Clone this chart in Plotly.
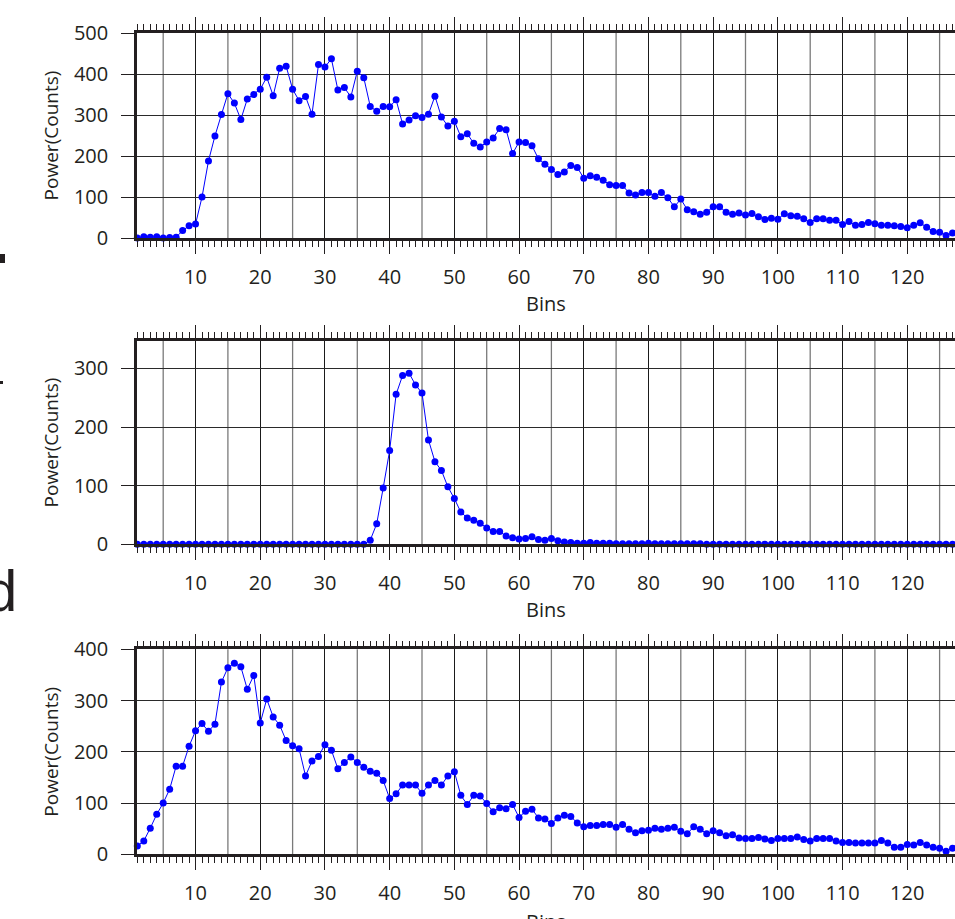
import plotly.graph_objects as go

bins = list(range(1, 128))

power_a = [0, 3, 2, 3, 0, 1, 2, 18, 30, 34,
           100, 188, 249, 301, 352, 329, 289, 339, 350, 363,
           392, 347, 414, 419, 363, 335, 345, 302, 423, 417,
           437, 361, 367, 344, 407, 391, 321, 309, 321, 320,
           337, 278, 288, 298, 294, 302, 346, 295, 273, 285,
           247, 254, 231, 222, 234, 244, 267, 264, 206, 234,
           233, 225, 193, 180, 167, 155, 161, 177, 172, 146,
           152, 148, 141, 130, 128, 128, 110, 105, 111, 111,
           102, 111, 98, 76, 95, 69, 64, 58, 63, 76,
           76, 63, 58, 61, 56, 60, 52, 45, 48, 46,
           59, 54, 53, 47, 38, 47, 47, 43, 43, 33,
           40, 31, 33, 38, 35, 31, 31, 30, 28, 25,
           31, 37, 26, 16, 14, 6, 12]

power_b = [0, 0, 0, 0, 0, 0, 0, 0, 0, 0,
           0, 0, 0, 0, 0, 0, 0, 0, 0, 0,
           0, 0, 0, 0, 0, 0, 0, 0, 0, 0,
           0, 0, 0, 0, 0, 0, 7, 35, 96, 160,
           256, 288, 292, 272, 258, 178, 141, 126, 98, 78,
           55, 45, 41, 36, 28, 22, 22, 14, 11, 9,
           10, 13, 8, 7, 10, 6, 4, 3, 2, 2,
           3, 2, 2, 2, 1, 1, 1, 1, 1, 2,
           1, 1, 1, 1, 1, 1, 1, 1, 0, 0,
           0, 0, 0, 0, 0, 0, 0, 0, 0, 0,
           0, 0, 0, 0, 0, 0, 0, 0, 0, 0,
           0, 0, 0, 0, 0, 0, 0, 0, 0, 0,
           0, 0, 0, 0, 0, 0, 0]

power_c = [16, 26, 51, 78, 100, 127, 172, 172, 211, 241,
           255, 240, 254, 336, 364, 373, 366, 322, 349, 256,
           303, 268, 252, 222, 212, 206, 153, 182, 191, 214,
           203, 167, 179, 190, 179, 170, 162, 158, 144, 109,
           118, 135, 135, 135, 119, 135, 144, 135, 153, 161,
           115, 97, 115, 114, 99, 83, 91, 89, 97, 72,
           84, 88, 71, 69, 60, 71, 76, 74, 61, 54,
           56, 56, 58, 58, 53, 58, 49, 42, 46, 47,
           51, 49, 51, 53, 45, 40, 54, 49, 40, 46,
           42, 36, 38, 32, 31, 31, 33, 30, 27, 31,
           31, 31, 34, 29, 26, 31, 31, 31, 26, 23,
           23, 22, 22, 22, 22, 27, 22, 14, 14, 19,
           18, 23, 18, 14, 12, 6, 12]

series = [power_a, power_b, power_c]
y_ranges = [[0, 500], [0, 347.4], [0, 400]]
panel_px = [(33, 238), (340.7, 544.3), (649.3, 854.3)]  # top, bottom in px
x_tick_vals = list(range(10, 121, 10))
x_half_grid = list(range(5, 128, 10))
x_title = "Bins"
y_title = "Power(Counts)"

W, H = 955, 919
L = 137
PW = W - L
INK = "#231f20"
FONT = "Open Sans"

fig = go.Figure()

for i, ys in enumerate(series):
    n = "" if i == 0 else str(i + 1)
    last = i == len(series) - 1
    fig.add_trace(go.Scatter(
        x=bins, y=ys, mode="lines+markers",
        line=dict(color="#0000ff", width=1),
        marker=dict(color="#0000ff", size=7),
        cliponaxis=False, showlegend=False,
        xaxis="x" + n, yaxis="y" + n))
    top, bot = panel_px[i]
    fig.layout["xaxis" + n] = dict(
        domain=[0, 1], anchor="y" + n, range=[0.95, 127.38], automargin=False,
        tickvals=x_tick_vals, ticks="outside", ticklen=13, tickwidth=1.3,
        tickcolor=INK, showline=True, linewidth=2.5, linecolor=INK,
        mirror="allticks", showgrid=True, gridcolor="#1a1a1a", gridwidth=1,
        zeroline=False,
        minor=dict(dtick=1, tick0=0, ticks="outside", ticklen=6,
                   tickwidth=1, tickcolor=INK, showgrid=False),
        tickfont=dict(family=FONT, size=20, color=INK),
        ticklabelstandoff=6,
        title=dict(text="" if last else x_title,
                   font=dict(family=FONT, size=20, color=INK), standoff=6))
    fig.layout["yaxis" + n] = dict(
        domain=[1 - bot / H, 1 - top / H], anchor="x" + n, automargin=False,
        range=y_ranges[i], dtick=100, tick0=0,
        ticks="outside", ticklen=13, tickwidth=1.3, tickcolor=INK,
        showline=True, linewidth=2.5, linecolor=INK, mirror=False,
        showgrid=True, gridcolor="#2a2a2a", gridwidth=1, zeroline=False,
        tickfont=dict(family=FONT, size=20, color=INK),
        ticklabelstandoff=9,
        title=dict(text=y_title, font=dict(family=FONT, size=19, color=INK),
                   standoff=11))
    for gx in x_half_grid:
        fig.add_shape(type="line", xref="x" + n, yref=("y" + n) + " domain",
                      x0=gx, x1=gx, y0=0, y1=1, layer="below",
                      line=dict(color="#7a7a7a", width=1.3))

# bottom panel's x title sits partly below the page edge, as in the reference
fig.add_annotation(text=x_title, xref="paper", yref="paper",
                   x=0.5, y=1 - 922 / H, xanchor="center", yanchor="middle",
                   showarrow=False, font=dict(family=FONT, size=20, color=INK))

# clipped panel-label fragments at the left edge
fig.add_annotation(text="d", xref="paper", yref="paper",
                   x=(19 - L) / PW, y=1 - 590 / H, xanchor="right", yanchor="middle",
                   showarrow=False, font=dict(family="Liberation Sans", size=58, color=INK))
fig.add_shape(type="rect", xref="paper", yref="paper",
              x0=(-10 - L) / PW, x1=(5 - L) / PW,
              y0=1 - 263 / H, y1=1 - 254 / H,
              line=dict(width=0), fillcolor=INK)
fig.add_shape(type="rect", xref="paper", yref="paper",
              x0=(-10 - L) / PW, x1=(3 - L) / PW,
              y0=1 - 384 / H, y1=1 - 381 / H,
              line=dict(width=0), fillcolor=INK)

fig.update_layout(width=W, height=H,
                  margin=dict(l=L, r=0, t=0, b=0, autoexpand=False),
                  paper_bgcolor="white", plot_bgcolor="white",
                  font=dict(family=FONT, color=INK))

fig.write_html("out.html", config={"displayModeBar": False},
               post_script="document.body.style.margin='0';document.body.style.overflow='hidden';")
